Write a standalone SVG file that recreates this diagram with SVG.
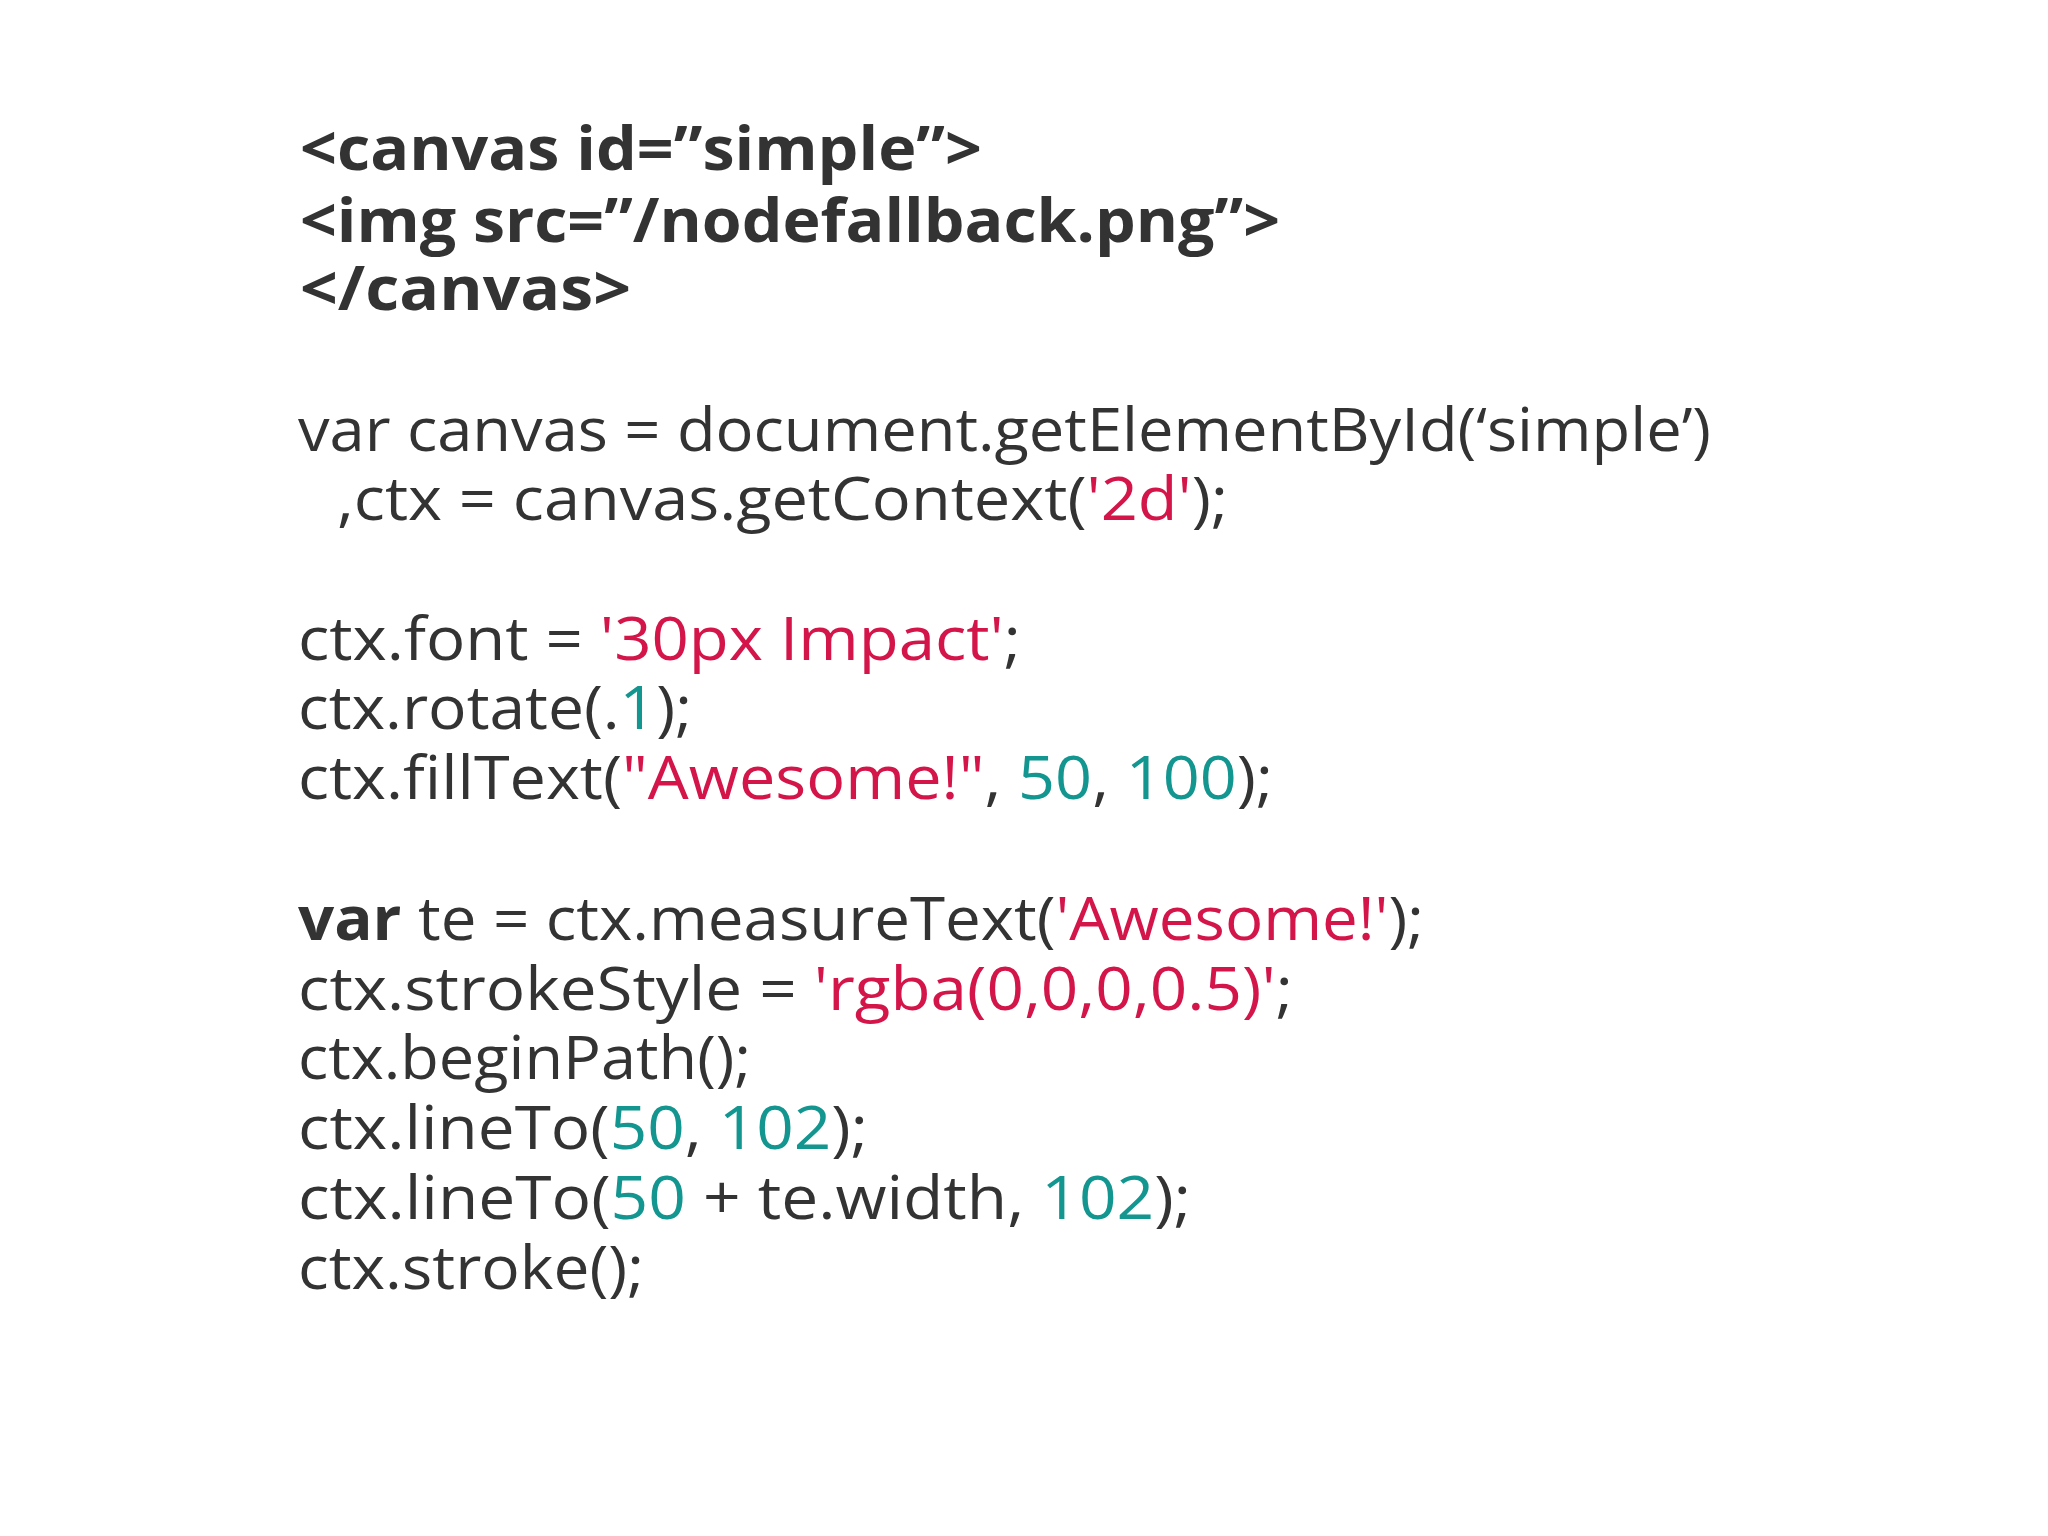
<svg xmlns="http://www.w3.org/2000/svg" width="2048" height="1536" viewBox="0 0 2048 1536">
<style>
text{font-family:"Open Sans","Noto Sans",sans-serif;font-size:60px;fill:#333;}
.b{font-weight:bold;}
.r{fill:#d4154a;}
.t{fill:#139590;}
</style>
<rect width="2048" height="1536" fill="#fff"/>
<g id="code">
<text class="b" x="300" y="170" textLength="682" lengthAdjust="spacingAndGlyphs">&lt;canvas id=”simple”&gt;</text>
<text class="b" x="300" y="242" textLength="980" lengthAdjust="spacingAndGlyphs">&lt;img src=”/nodefallback.png”&gt;</text>
<text class="b" x="300" y="310" textLength="331" lengthAdjust="spacingAndGlyphs">&lt;/canvas&gt;</text>
<text x="298" y="451" textLength="1413" lengthAdjust="spacingAndGlyphs">var canvas = document.getElementById(‘simple’)</text>
<text x="337" y="520" textLength="891" lengthAdjust="spacingAndGlyphs">,ctx = canvas.getContext(<tspan class="r">'2d'</tspan>);</text>
<text x="298" y="660" textLength="723" lengthAdjust="spacingAndGlyphs">ctx.font = <tspan class="r">'30px Impact'</tspan>;</text>
<text x="298" y="729" textLength="394" lengthAdjust="spacingAndGlyphs">ctx.rotate(.<tspan class="t">1</tspan>);</text>
<text x="298" y="799" textLength="975" lengthAdjust="spacingAndGlyphs">ctx.fillText(<tspan class="r">"Awesome!"</tspan>, <tspan class="t">50</tspan>, <tspan class="t">100</tspan>);</text>
<text x="298" y="940" textLength="1126" lengthAdjust="spacingAndGlyphs"><tspan class="b">var</tspan> te = ctx.measureText(<tspan class="r">'Awesome!'</tspan>);</text>
<text x="298" y="1010" textLength="995" lengthAdjust="spacingAndGlyphs">ctx.strokeStyle = <tspan class="r">'rgba(0,0,0,0.5)'</tspan>;</text>
<text x="298" y="1079" textLength="453" lengthAdjust="spacingAndGlyphs">ctx.beginPath();</text>
<text x="298" y="1149" textLength="570" lengthAdjust="spacingAndGlyphs">ctx.lineTo(<tspan class="t">50</tspan>, <tspan class="t">102</tspan>);</text>
<text x="298" y="1219" textLength="893" lengthAdjust="spacingAndGlyphs">ctx.lineTo(<tspan class="t">50</tspan> + te.width, <tspan class="t">102</tspan>);</text>
<text x="298" y="1289" textLength="346" lengthAdjust="spacingAndGlyphs">ctx.stroke();</text>
</g>
</svg>
